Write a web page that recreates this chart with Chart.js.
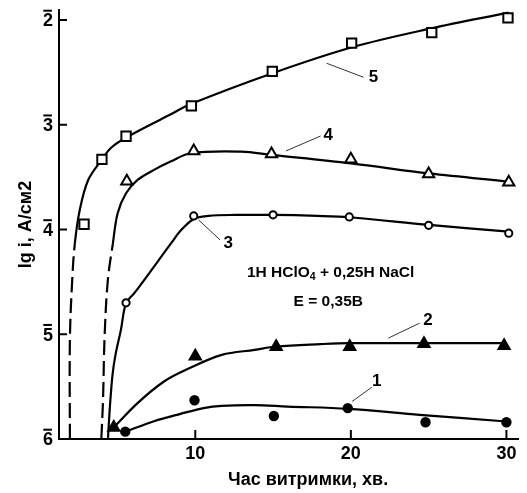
<!DOCTYPE html>
<html>
<head>
<meta charset="utf-8">
<script src="https://cdn.jsdelivr.net/npm/chart.js@4.4.1/dist/chart.umd.min.js"></script>
<style>
  html, body { margin: 0; padding: 0; background: #fff; }
  canvas { display: block; }
</style>
</head>
<body>
<canvas id="grafico" width="527" height="493"></canvas>
<script>
// осі
const tickX = [10, 20, 30];
const tickY = [-6, -5, -4, -3, -2];
const tickYLabels = ['6', '5', '4', '3', '2'];

// експериментальні точки (час, хв. / lg i)
const t1 = [5.5, 9.95, 15.05, 19.8, 24.8, 30.0];
const lg1 = [-5.93, -5.63, -5.78, -5.705, -5.84, -5.84];
const t2 = [4.76, 10.0, 15.2, 19.93, 24.7, 29.85];
const lg2 = [-5.89, -5.21, -5.12, -5.12, -5.09, -5.11];
const t3 = [5.55, 9.9, 15.0, 19.9, 25.0, 30.15];
const lg3 = [-4.70, -3.87, -3.86, -3.88, -3.96, -4.035];
const t4 = [5.6, 9.9, 14.9, 20.0, 25.0, 30.15];
const lg4 = [-3.54, -3.25, -3.28, -3.33, -3.47, -3.55];
const t5 = [2.85, 4.0, 5.55, 9.75, 14.95, 20.05, 25.2, 30.1];
const lg5 = [-3.95, -3.33, -3.11, -2.82, -2.49, -2.22, -2.12, -1.98];

// згладжені криві
const ct1 = [5.5, 7.35, 9.05, 10.53, 11.7, 13.82, 15.94, 19.82, 24.42, 30.0];
const cl1 = [-5.93, -5.83, -5.76, -5.705, -5.683, -5.676, -5.69, -5.712, -5.769, -5.833];
const ct2 = [4.76, 6.29, 7.99, 9.47, 11.7, 13.82, 15.2, 18.06, 19.9, 30.0];
const cl2 = [-5.89, -5.657, -5.451, -5.335, -5.197, -5.149, -5.117, -5.094, -5.085, -5.085];
const ct3 = [4.39, 4.52, 4.68, 4.87, 5.22, 5.55, 6.08, 7.35, 8.51, 9.05, 9.9, 10.85, 12.55, 14.99, 17.85, 19.9, 25.04, 30.15];
const cl3 = [-5.989, -5.674, -5.387, -5.197, -4.958, -4.703, -4.608, -4.354, -4.118, -4.013, -3.899, -3.87, -3.861, -3.861, -3.87, -3.883, -3.956, -4.02];
const ct4 = [3.96, 4.07, 4.17, 4.38, 4.70, 5.01, 5.55, 6.29, 7.35, 8.41, 9.69, 12.95, 14.92, 20.01, 25.04, 30.13];
const cl4 = [-6.0, -5.626, -5.025, -4.481, -4.137, -3.844, -3.654, -3.527, -3.431, -3.352, -3.272, -3.257, -3.288, -3.369, -3.465, -3.543];
const ct5 = [1.94, 1.94, 2.09, 2.26, 2.58, 3.11, 3.96, 4.59, 5.59, 8.3, 9.75, 14.92, 20.08, 25.17, 30.13];
const cl5 = [-6.0, -5.05, -4.48, -4.13, -3.81, -3.53, -3.34, -3.22, -3.12, -2.91, -2.80, -2.51, -2.26, -2.08, -1.93];

// номери кривих і виноски
const curveNames = ['1', '2', '3', '4', '5'];
const nameT = [21.67, 24.96, 12.12, 18.55, 21.46];
const nameLg = [-5.451, -4.869, -4.131, -3.097, -2.547];
const leaderT0 = [20.08, 22.41, 10.21, 15.83, 18.44];
const leaderLg0 = [-5.642, -5.037, -3.908, -3.250, -2.413];
const leaderT1 = [21.35, 24.42, 11.59, 18.06, 20.82];
const leaderLg1 = [-5.505, -4.894, -4.099, -3.107, -2.547];

const FONT = '"Liberation Sans", Arial, sans-serif';

function pts(xs, ys) {
    return xs.map((v, i) => ({ x: v, y: ys[i] }));
}

function curve(xs, ys, dashTo) {
    return {
        data: pts(xs, ys),
        borderColor: '#000',
        borderWidth: 2.2,
        pointRadius: 0,
        tension: 0.35,
        fill: false,
        order: 2,
        segment: {
            borderDash: ctx => (ctx.p1DataIndex <= dashTo ? [15, 6] : undefined)
        }
    };
}

function marks(xs, ys, style, radius, filled) {
    return {
        data: pts(xs, ys),
        showLine: false,
        pointStyle: style,
        pointRadius: radius,
        pointBorderWidth: 2,
        pointBorderColor: '#000',
        pointBackgroundColor: filled ? '#000' : '#fff',
        order: 1
    };
}

const decor = {
    id: 'decor',
    afterDraw(chart) {
        const { ctx, chartArea: a, scales: { x, y } } = chart;
        ctx.save();
        ctx.strokeStyle = '#000';
        ctx.fillStyle = '#000';

        // внутрішні риски
        ctx.lineWidth = 2;
        tickX.forEach(v => {
            const px = x.getPixelForValue(v);
            ctx.beginPath();
            ctx.moveTo(px, a.bottom);
            ctx.lineTo(px, a.bottom - 9);
            ctx.stroke();
        });
        tickY.forEach(v => {
            const py = y.getPixelForValue(v);
            ctx.beginPath();
            ctx.moveTo(a.left, py);
            ctx.lineTo(a.left + 8, py);
            ctx.stroke();
        });

        // підписи осі y з рискою зверху
        ctx.font = 'bold 18px ' + FONT;
        ctx.textAlign = 'center';
        ctx.textBaseline = 'middle';
        tickY.forEach((v, i) => {
            const py = y.getPixelForValue(v) + 1.5;
            const cx = a.left - 11;
            ctx.fillText(tickYLabels[i], cx, py);
            ctx.beginPath();
            ctx.moveTo(cx - 4.7, py - 10.8);
            ctx.lineTo(cx + 3.9, py - 10.8);
            ctx.stroke();
        });

        // назва осі x
        ctx.fillText('Час витримки, хв.', x.getPixelForValue(17.25), a.bottom + 41);

        // номери кривих
        ctx.font = 'bold 17px ' + FONT;
        curveNames.forEach((n, i) => {
            ctx.fillText(n, x.getPixelForValue(nameT[i]), y.getPixelForValue(nameLg[i]));
        });
        ctx.lineWidth = 1;
        ctx.strokeStyle = '#333';
        curveNames.forEach((n, i) => {
            ctx.beginPath();
            ctx.moveTo(x.getPixelForValue(leaderT0[i]), y.getPixelForValue(leaderLg0[i]));
            ctx.lineTo(x.getPixelForValue(leaderT1[i]), y.getPixelForValue(leaderLg1[i]));
            ctx.stroke();
        });

        // умови досліду
        const cx = x.getPixelForValue(18.7);
        const cy = y.getPixelForValue(-4.417);
        const big = 'bold 15.5px ' + FONT;
        const small = 'bold 10.5px ' + FONT;
        const parts = [['1H HClO', big, 0], ['4', small, 4], [' + 0,25H NaCl', big, 0]];
        let w = 0;
        parts.forEach(p => { ctx.font = p[1]; w += ctx.measureText(p[0]).width; });
        let sx = cx - w / 2;
        ctx.textAlign = 'left';
        parts.forEach(p => {
            ctx.font = p[1];
            ctx.fillText(p[0], sx, cy + p[2]);
            sx += ctx.measureText(p[0]).width;
        });
        ctx.font = big;
        ctx.textAlign = 'center';
        ctx.fillText('E = 0,35B', x.getPixelForValue(18.55), y.getPixelForValue(-4.688));
        ctx.restore();
    }
};

new Chart(document.getElementById('grafico').getContext('2d'), {
    type: 'line',
    data: {
        datasets: [
            curve(ct1, cl1, -1),
            curve(ct2, cl2, -1),
            curve(ct3, cl3, -1),
            curve(ct4, cl4, 4),
            curve(ct5, cl5, 3),
            marks(t1, lg1, 'circle', 4.2, true),
            marks(t2, lg2, 'triangle', 6.5, true),
            marks(t3, lg3, 'circle', 3.6, false),
            marks(t4, lg4, 'triangle', 6.5, false),
            marks(t5, lg5, 'rect', 6.6, false)
        ]
    },
    options: {
        responsive: false,
        animation: false,
        devicePixelRatio: 1,
        layout: { padding: { top: 10, right: 4, left: 0, bottom: 0 } },
        plugins: {
            legend: { display: false },
            tooltip: { enabled: false }
        },
        scales: {
            x: {
                type: 'linear',
                min: 1.24,
                max: 30.77,
                grid: { display: false, drawTicks: false },
                border: { display: true, color: '#000', width: 2 },
                ticks: {
                    color: '#000',
                    font: { family: FONT, size: 18, weight: 'bold' },
                    padding: 4,
                    autoSkip: false,
                    maxRotation: 0
                },
                afterBuildTicks: s => { s.ticks = tickX.map(v => ({ value: v })); },
                afterFit: s => { s.height = 54; }
            },
            y: {
                type: 'linear',
                min: -6,
                max: -1.9045,
                grid: { display: false, drawTicks: false },
                border: { display: true, color: '#000', width: 2 },
                ticks: { display: false },
                title: {
                    display: true,
                    text: 'lg i, A/см2',
                    color: '#000',
                    font: { family: FONT, size: 18, weight: 'bold' },
                    padding: { top: 15, bottom: 0 }
                },
                afterBuildTicks: s => { s.ticks = tickY.map(v => ({ value: v })); },
                afterFit: s => { s.width = 59; }
            }
        }
    },
    plugins: [decor]
});
</script>
</body>
</html>
